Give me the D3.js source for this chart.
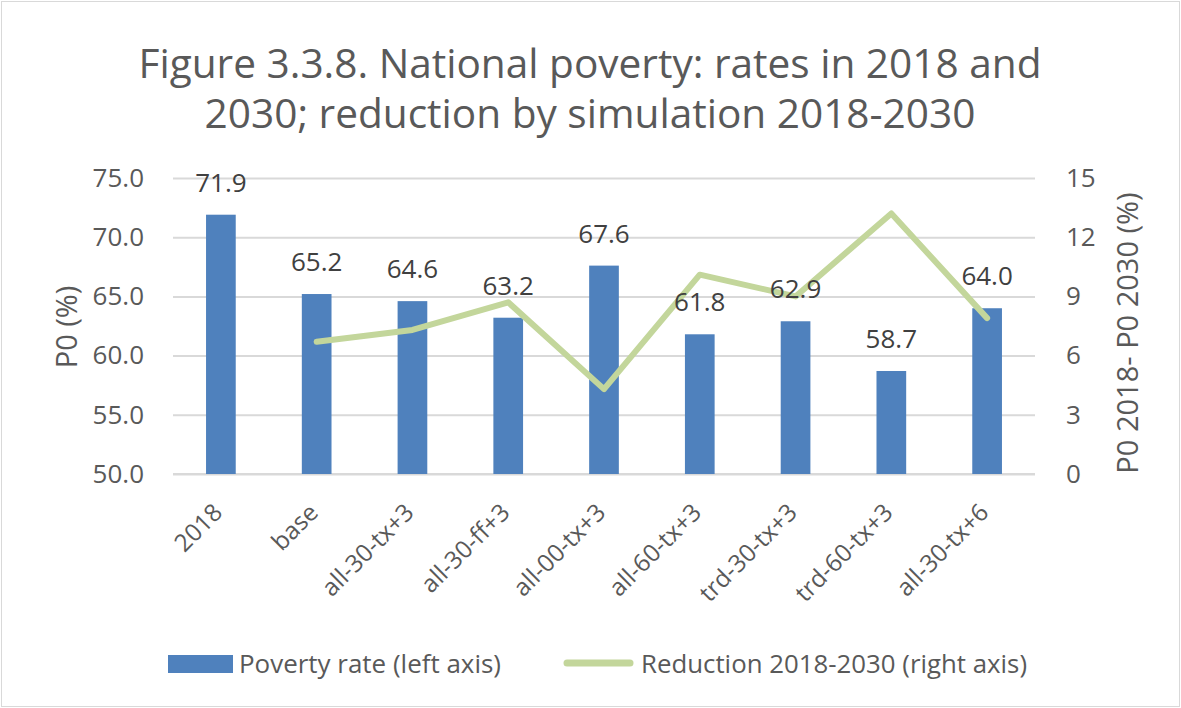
<!DOCTYPE html>
<html>
<head>
<meta charset="utf-8">
<script src="https://cdn.jsdelivr.net/npm/d3@7"></script>
<style>
  body { margin: 0; background: #fff; }
  text { font-family: "Open Sans", "Noto Sans", sans-serif; }
</style>
</head>
<body>
<script>
// chart size
var w = 1181;
var h = 708;

// data
var categories = ["2018", "base", "all-30-tx+3", "all-30-ff+3", "all-00-tx+3",
                  "all-60-tx+3", "trd-30-tx+3", "trd-60-tx+3", "all-30-tx+6"];
var povertyRate = [71.9, 65.2, 64.6, 63.2, 67.6, 61.8, 62.9, 58.7, 64.0];
var reduction = [null, 6.7, 7.3, 8.7, 4.3, 10.1, 9.0, 13.2, 7.9];
var leftTicks = [50, 55, 60, 65, 70, 75];
var rightTicks = [0, 3, 6, 9, 12, 15];

var plot = {left: 173, right: 1035, top: 178, bottom: 474};

var svg = d3.select("body").append("svg")
    .attr("width", w)
    .attr("height", h);

// outer border
svg.append("rect")
    .attr("x", 1.5).attr("y", 1.5)
    .attr("width", w - 3).attr("height", h - 3)
    .style("fill", "#fff")
    .style("stroke", "#d9d9d9");

// title
var title = svg.append("text")
    .attr("x", 590)
    .attr("text-anchor", "middle")
    .attr("font-size", "40.6px")
    .style("fill", "#595959");
title.append("tspan").attr("x", 590).attr("y", 78)
    .text("Figure 3.3.8. National poverty: rates in 2018 and");
title.append("tspan").attr("x", 590).attr("y", 128)
    .text("2030; reduction by simulation 2018-2030");

// scales
var x = d3.scaleBand()
    .domain(categories)
    .range([plot.left, plot.right])
    .paddingInner(0.69)
    .paddingOuter(0.345);
var xc = d3.scaleBand().domain(categories).range([plot.left, plot.right]);
var y = d3.scaleLinear().domain([50, 75]).range([plot.bottom, plot.top]);
var y2 = d3.scaleLinear().domain([0, 15]).range([plot.bottom, plot.top]);

// gridlines
svg.append("g")
    .attr("class", "grid")
    .attr("transform", "translate(" + plot.left + ",0)")
    .call(d3.axisLeft(y).tickValues(leftTicks).tickSize(-(plot.right - plot.left)).tickFormat(""))
    .call(g => g.select(".domain").remove())
    .call(g => g.selectAll("line").style("stroke", "#d9d9d9").style("stroke-width", 2));

// left axis labels
svg.append("g")
    .attr("transform", "translate(" + plot.left + ",0)")
    .call(d3.axisLeft(y).tickValues(leftTicks).tickSize(0).tickPadding(29).tickFormat(d3.format(".1f")))
    .call(g => g.select(".domain").remove())
    .call(g => g.selectAll("text")
        .attr("font-size", "26px")
        .style("font-family", "'Open Sans', sans-serif")
        .style("fill", "#595959"));

// right axis labels
svg.append("g")
    .attr("transform", "translate(" + plot.right + ",0)")
    .call(d3.axisRight(y2).tickValues(rightTicks).tickSize(0).tickPadding(31))
    .call(g => g.select(".domain").remove())
    .call(g => g.selectAll("text")
        .attr("font-size", "26px")
        .style("font-family", "'Open Sans', sans-serif")
        .style("fill", "#595959"));

// x axis line
svg.append("line")
    .attr("x1", plot.left).attr("x2", plot.right)
    .attr("y1", plot.bottom).attr("y2", plot.bottom)
    .style("stroke", "#d9d9d9")
    .style("stroke-width", 2);

// x labels
svg.append("g").selectAll("text")
    .data(categories)
    .enter().append("text")
    .attr("transform", d => "translate(" + (xc(d) + xc.bandwidth() / 2 + 3) + "," + (plot.bottom + 40) + ") rotate(-45)")
    .attr("text-anchor", "end")
    .attr("font-size", "24.3px")
    .style("fill", "#595959")
    .text(d => d);

// axis titles
svg.append("text")
    .attr("transform", "translate(67,327) rotate(-90)")
    .attr("text-anchor", "middle")
    .attr("dy", "0.35em")
    .attr("font-size", "29px")
    .style("fill", "#595959")
    .text("P0 (%)");

svg.append("text")
    .attr("transform", "translate(1128,333) rotate(-90)")
    .attr("text-anchor", "middle")
    .attr("dy", "0.35em")
    .attr("font-size", "29px")
    .style("fill", "#595959")
    .text("P0 2018- P0 2030 (%)");

// bars
svg.append("g").selectAll("rect")
    .data(povertyRate)
    .enter().append("rect")
    .attr("x", (d, i) => x(categories[i]))
    .attr("y", d => y(d))
    .attr("width", x.bandwidth())
    .attr("height", d => plot.bottom - y(d))
    .style("fill", "#4f81bd");

// reduction line
var line = d3.line()
    .defined(d => d[1] != null)
    .x(d => xc(d[0]) + xc.bandwidth() / 2)
    .y(d => y2(d[1]));

svg.append("path")
    .datum(categories.map((c, i) => [c, reduction[i]]))
    .attr("d", line)
    .style("fill", "none")
    .style("stroke", "#c3d69b")
    .style("stroke-width", 6)
    .style("stroke-linejoin", "round")
    .style("stroke-linecap", "round");

// bar labels
svg.append("g").selectAll("text")
    .data(povertyRate)
    .enter().append("text")
    .attr("x", (d, i) => xc(categories[i]) + xc.bandwidth() / 2)
    .attr("y", d => y(d) - 23)
    .attr("text-anchor", "middle")
    .attr("font-size", "26px")
    .style("fill", "#404040")
    .text(d => d.toFixed(1));

// legend
var legend = svg.append("g");
legend.append("rect")
    .attr("x", 168).attr("y", 655)
    .attr("width", 65).attr("height", 18)
    .style("fill", "#4f81bd");
legend.append("text")
    .attr("x", 239).attr("y", 673)
    .attr("font-size", "25px")
    .attr("textLength", 262)
    .attr("lengthAdjust", "spacingAndGlyphs")
    .style("fill", "#595959")
    .text("Poverty rate (left axis)");
legend.append("line")
    .attr("x1", 567).attr("x2", 630)
    .attr("y1", 663).attr("y2", 663)
    .style("stroke", "#c3d69b")
    .style("stroke-width", 7)
    .style("stroke-linecap", "round");
legend.append("text")
    .attr("x", 641).attr("y", 673)
    .attr("font-size", "25px")
    .attr("textLength", 386)
    .attr("lengthAdjust", "spacingAndGlyphs")
    .style("fill", "#595959")
    .text("Reduction 2018-2030 (right axis)");
</script>
</body>
</html>
